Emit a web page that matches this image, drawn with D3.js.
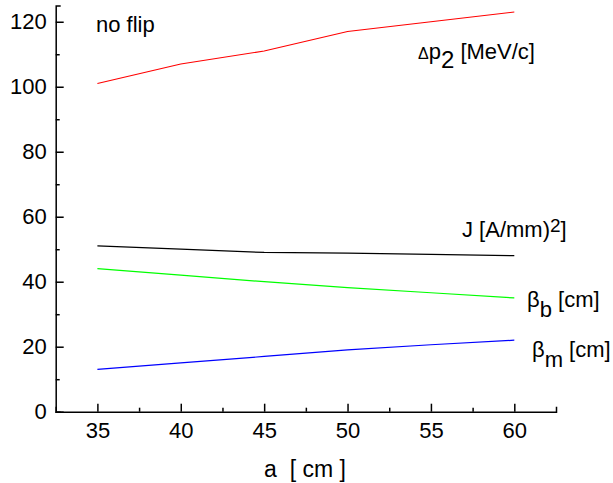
<!DOCTYPE html>
<html>
<head>
<meta charset="utf-8">
<script src="https://cdn.jsdelivr.net/npm/d3@7"></script>
<style>
  body { margin: 0; background: #fff; }
  svg { font-family: "Liberation Sans", Arial, sans-serif; }
  text { white-space: pre; }
</style>
</head>
<body>
<div id="chart"></div>
<script>
const FRAME_WIDTH = 613;
const FRAME_HEIGHT = 483;
const MARGINS = { left: 55.7, right: 57, top: 5.5, bottom: 71.3 };

// data
const A_VALUES = [35, 40, 45, 50, 55, 60];
const DP2 = [101, 107, 111, 117, 120, 123];
const J_VALUES = [51, 50, 49, 48.8, 48.4, 48];
const BETA_B = [44, 42, 40, 38.2, 36.6, 35];
const BETA_M = [13, 15, 17, 19, 20.6, 22];

const X_TICKS = [35, 40, 45, 50, 55, 60];
const X_MINOR = [37.5, 42.5, 47.5, 52.5, 57.5];
const Y_TICKS = [0, 20, 40, 60, 80, 100, 120];
const Y_MINOR = [10, 30, 50, 70, 90, 110];

const SERIES = [
  { name: "dp2", values: DP2, color: "#ff0000" },
  { name: "J", values: J_VALUES, color: "#000000" },
  { name: "betab", values: BETA_B, color: "#00ff00" },
  { name: "betam", values: BETA_M, color: "#0000ff" }
];

const FRAME = d3.select("#chart")
  .append("svg")
  .attr("width", FRAME_WIDTH)
  .attr("height", FRAME_HEIGHT);

const X_SCALE = d3.scaleLinear()
  .domain([32.5, 62.5])
  .range([MARGINS.left, FRAME_WIDTH - MARGINS.right]);

const Y_SCALE = d3.scaleLinear()
  .domain([0, 125])
  .range([FRAME_HEIGHT - MARGINS.bottom, MARGINS.top]);

const X0 = FRAME_HEIGHT - MARGINS.bottom;

// x axis, ticks pointing inward
FRAME.append("g")
  .attr("transform", "translate(0," + X0 + ")")
  .call(d3.axisBottom(X_SCALE).tickValues(X_TICKS)
    .tickSizeInner(-8).tickSizeOuter(-5).tickPadding(11));

FRAME.append("g")
  .attr("transform", "translate(0," + X0 + ")")
  .call(d3.axisBottom(X_SCALE).tickValues(X_MINOR)
    .tickSize(-4).tickFormat(""))
  .call(g => g.select(".domain").remove());

// y axis
FRAME.append("g")
  .attr("transform", "translate(" + MARGINS.left + ",0)")
  .call(d3.axisLeft(Y_SCALE).tickValues(Y_TICKS)
    .tickSizeInner(-8).tickSizeOuter(-5).tickPadding(9));

FRAME.append("g")
  .attr("transform", "translate(" + MARGINS.left + ",0)")
  .call(d3.axisLeft(Y_SCALE).tickValues(Y_MINOR)
    .tickSize(-4).tickFormat(""))
  .call(g => g.select(".domain").remove());

FRAME.selectAll(".domain, .tick line")
  .attr("stroke", "#000")
  .attr("stroke-width", 1.5);

FRAME.selectAll(".tick text")
  .attr("font-family", "Liberation Sans, Arial, sans-serif")
  .attr("font-size", "22px")
  .attr("fill", "#000");

// series lines
const LINE = d3.line()
  .x((d, i) => X_SCALE(A_VALUES[i]))
  .y((d) => Y_SCALE(d));

FRAME.selectAll(".series")
  .data(SERIES)
  .enter()
  .append("path")
  .attr("class", "series")
  .attr("d", (d) => LINE(d.values))
  .attr("fill", "none")
  .attr("stroke", (d) => d.color)
  .attr("stroke-width", 1.2);

// labels
FRAME.append("text")
  .attr("x", 96)
  .attr("y", 32)
  .attr("font-size", "22px")
  .text("no flip");

FRAME.append("text")
  .attr("x", 305)
  .attr("y", 477)
  .attr("text-anchor", "middle")
  .attr("font-size", "23px")
  .text("a  [ cm ]");

const DP_LABEL = FRAME.append("text")
  .attr("x", 418)
  .attr("y", 59)
  .attr("font-size", "22px");
DP_LABEL.append("tspan").attr("font-size", "16px").text("\u0394");
DP_LABEL.append("tspan").text("p");
DP_LABEL.append("tspan").attr("dy", 9).attr("font-size", "24px").text("2");
DP_LABEL.append("tspan").attr("dy", -9).text(" [MeV/c]");

const J_LABEL = FRAME.append("text")
  .attr("x", 462)
  .attr("y", 237)
  .attr("font-size", "22px");
J_LABEL.append("tspan").text("J [A/mm)");
J_LABEL.append("tspan").attr("dy", -5).attr("font-size", "19px").text("2");
J_LABEL.append("tspan").attr("dy", 5).text("]");

const BB_LABEL = FRAME.append("text")
  .attr("x", 527)
  .attr("y", 307)
  .attr("font-size", "22px");
BB_LABEL.append("tspan").text("\u03b2");
BB_LABEL.append("tspan").attr("dy", 10).text("b");
BB_LABEL.append("tspan").attr("dy", -10).text(" [cm]");

const BM_LABEL = FRAME.append("text")
  .attr("x", 532)
  .attr("y", 357)
  .attr("font-size", "22px");
BM_LABEL.append("tspan").text("\u03b2");
BM_LABEL.append("tspan").attr("dy", 10).text("m");
BM_LABEL.append("tspan").attr("dy", -10).text(" [cm]");
</script>
</body>
</html>
